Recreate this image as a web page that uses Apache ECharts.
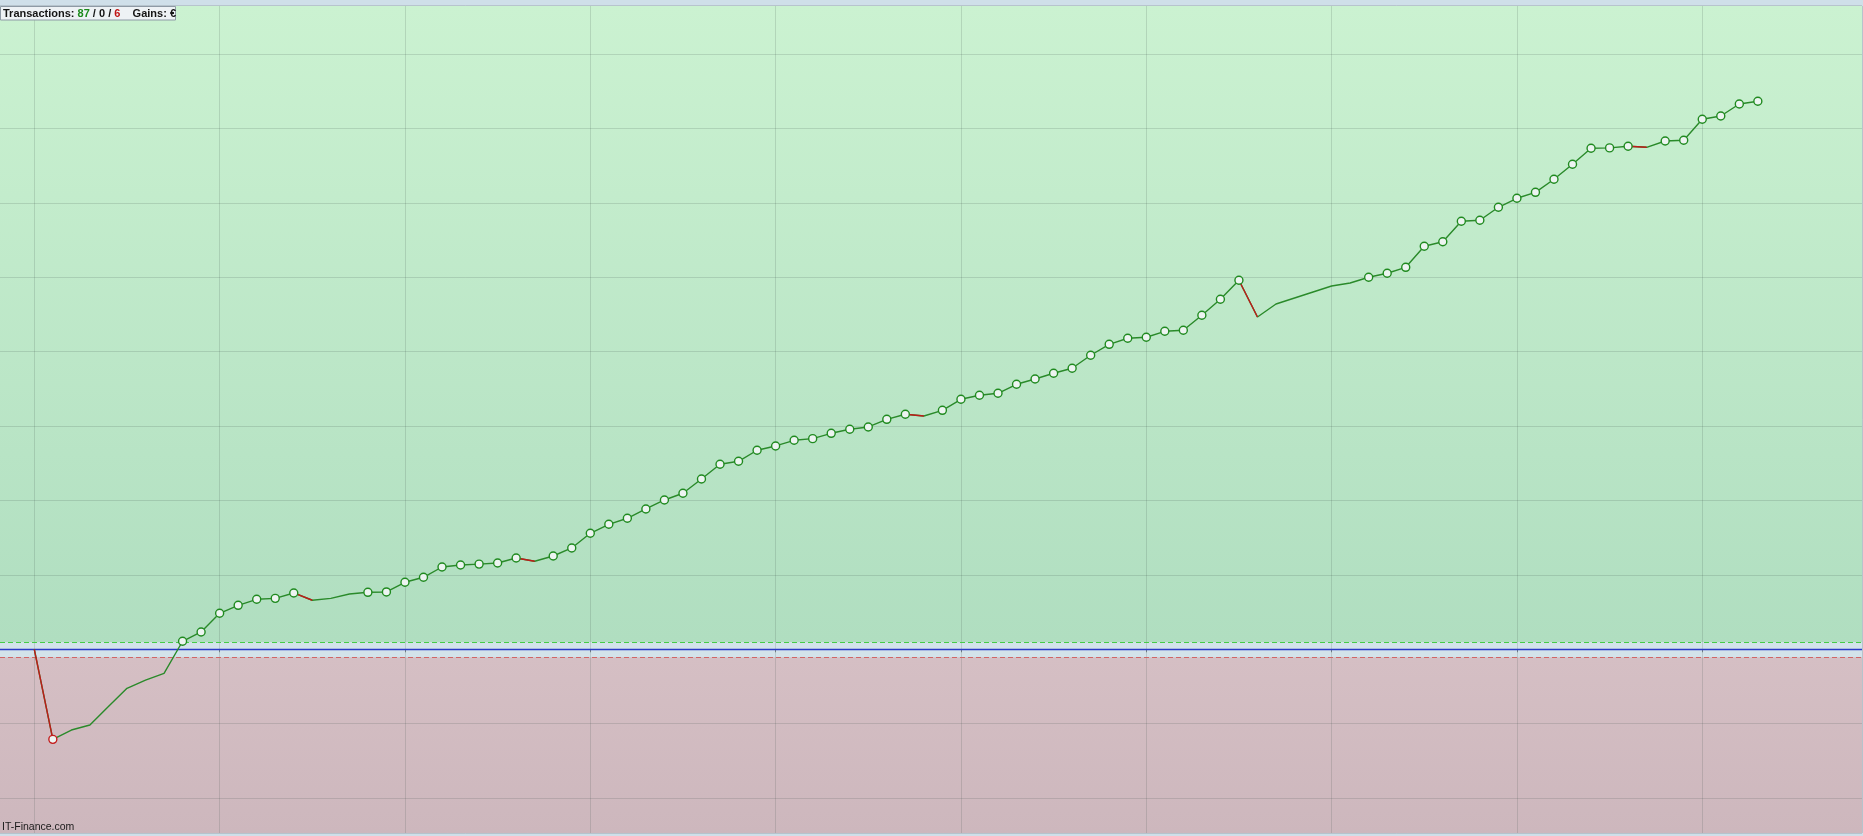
<!DOCTYPE html>
<html>
<head>
<meta charset="utf-8">
<script src="https://cdn.jsdelivr.net/npm/echarts@6/dist/echarts.min.js"></script>
<style>
html,body{margin:0;padding:0;background:#cfdfe9;overflow:hidden;}
#c{width:1863px;height:836px;}
</style>
</head>
<body>
<div id="c"></div>
<script>
// ---- data (cumulative result after each transaction; index 0 = start) ----
const tradeIndex = Array.from({length: 94}, (_, i) => i);
const equity = [
  0, -121.0, -108.5, -101.7, -77.0, -52.4, -41.5, -32.3, 10.8, 23.3,
  48.4, 59.1, 67.2, 68.5, 75.7, 65.9, 68.5, 74.3, 76.6, 77.1,
  90.1, 96.8, 110.6, 113.3, 114.5, 116.0, 122.7, 118.3, 125.4, 136.2,
  155.9, 168.0, 176.1, 188.6, 200.7, 209.7, 228.9, 248.7, 252.7, 267.5,
  273.3, 280.9, 283.1, 290.3, 295.7, 298.8, 309.1, 315.9, 313.6, 321.2,
  336.0, 341.4, 344.1, 356.2, 363.3, 371.0, 377.7, 395.2, 409.9, 418.0,
  419.4, 427.4, 428.8, 448.9, 470.4, 496.0, 446.6, 464.1, 472.2, 480.2,
  488.3, 492.3, 500.0, 505.4, 513.4, 541.7, 547.8, 575.3, 576.6, 594.1,
  606.2, 614.2, 631.7, 651.9, 673.4, 673.9, 676.1, 674.7, 683.2, 684.1,
  712.4, 716.8, 732.9, 736.6
];
const gridLinesX = [0, 10, 20, 30, 40, 50, 60, 70, 80, 90];
const gridLinesY = [-200, -100, 100, 200, 300, 400, 500, 600, 700, 800];
const upperBand = 9.4;
const lowerBand = -10.75;
const xRange = [-1.851, 98.62];
const yRange = [-246.9, 864.6];

// ---- derived ----
const lineData = tradeIndex.map(i => [i, equity[i]]);
let wins = 0, neutral = 0, losses = 0;
const lossSeries = [];
for (let i = 0; i < equity.length - 1; i++) {
  const d = equity[i + 1] - equity[i];
  if (d > 0) wins++;
  else if (d < 0) {
    losses++;
    lossSeries.push({
      type: 'line', z: 3, silent: true, symbol: 'none', animation: false,
      data: [[i, equity[i]], [i + 1, equity[i + 1]]],
      lineStyle: {color: '#c01a1a', width: 1.4}
    });
  } else neutral++;
}
let runMax = equity[0];
let minIdx = 0;
equity.forEach((v, i) => { if (v < equity[minIdx]) minIdx = i; });
const markerData = [];
for (let i = 1; i < equity.length; i++) {
  if (equity[i] > runMax) {
    runMax = equity[i];
    markerData.push({value: [i, equity[i]], itemStyle: {borderColor: '#1f8a1f'}});
  } else if (i === minIdx) {
    markerData.push({value: [i, equity[i]], itemStyle: {borderColor: '#c41c1c'}});
  }
}

const gridStyle = {color: 'rgba(60,80,70,0.17)', width: 1, type: 'solid'};
const mlData = [];
gridLinesX.forEach(x => mlData.push({xAxis: x, lineStyle: gridStyle}));
gridLinesY.forEach(y => mlData.push({yAxis: y, lineStyle: gridStyle}));
mlData.push({yAxis: upperBand, lineStyle: {color: '#46cc46', width: 1, type: [5, 3]}});
mlData.push({yAxis: lowerBand, lineStyle: {color: '#d06666', width: 1, type: [5, 3]}});
mlData.push({yAxis: 0, lineStyle: {color: '#2a38c8', width: 1.4, type: 'solid'}});

const G = echarts.graphic.LinearGradient;
const chart = echarts.init(document.getElementById('c'), null, {renderer: 'canvas'});
chart.setOption({
  animation: false,
  backgroundColor: '#cfdfe9',
  grid: {left: 0, right: 1, top: 6, bottom: 3, show: true, borderColor: '#9ea8b0', borderWidth: 1, backgroundColor: 'transparent'},
  xAxis: {
    type: 'value', min: xRange[0], max: xRange[1],
    splitLine: {show: false},
    axisLine: {show: false},
    axisLabel: {show: false},
    axisTick: {show: true, customValues: gridLinesX, length: 3, lineStyle: {color: '#7d8890'}}
  },
  yAxis: {
    type: 'value', min: yRange[0], max: yRange[1],
    splitLine: {show: false}, axisLine: {show: false}, axisLabel: {show: false}, axisTick: {show: false}
  },
  series: [
    {
      type: 'line', z: 1, silent: true, symbol: 'none',
      data: lineData, lineStyle: {opacity: 0},
      markArea: {
        silent: true, z: 0,
        data: [
          [{yAxis: upperBand, itemStyle: {color: new G(0, 0, 0, 1, [{offset: 0, color: '#cbf2d1'}, {offset: 1, color: '#b0dec0'}])}}, {yAxis: yRange[1]}],
          [{yAxis: lowerBand, itemStyle: {color: '#d3e3ea'}}, {yAxis: upperBand}],
          [{yAxis: yRange[0], itemStyle: {color: new G(0, 0, 0, 1, [{offset: 0, color: '#d5bfc4'}, {offset: 1, color: '#cdb7bd'}])}}, {yAxis: lowerBand}]
        ]
      },
      markLine: {
        silent: true, z: 1, symbol: ['none', 'none'], label: {show: false},
        emphasis: {disabled: true},
        data: mlData
      }
    },
    {
      type: 'line', z: 2, silent: true, symbol: 'none',
      data: lineData,
      lineStyle: {color: '#2a8a2a', width: 1.4}
    },
    ...lossSeries,
    {
      type: 'scatter', z: 5, silent: true, symbol: 'circle', symbolSize: 8,
      data: markerData,
      itemStyle: {color: '#edf4f1', borderWidth: 1.4, borderColor: '#1f8a1f', opacity: 1}
    }
  ],
  graphic: [
    {type: 'rect', z: 100, shape: {x: 0.5, y: 6.5, width: 175, height: 13.5}, style: {fill: '#eef2f5', stroke: '#8e9aa5', lineWidth: 1}},
    {type: 'text', z: 101, x: 3, y: 13.5, style: {
      text: '{k|Transactions:} {g|' + wins + '} {k|/} {k|' + neutral + '} {k|/} {r|' + losses + '}    {k|Gains: €}',
      verticalAlign: 'middle',
      rich: {
        k: {fontFamily: 'Liberation Sans', fontSize: 11, fontWeight: 'bold', fill: '#141414'},
        g: {fontFamily: 'Liberation Sans', fontSize: 11, fontWeight: 'bold', fill: '#1b8a1b'},
        r: {fontFamily: 'Liberation Sans', fontSize: 11, fontWeight: 'bold', fill: '#c01515'}
      },
      font: 'bold 11px "Liberation Sans"'
    }},
    {type: 'text', z: 101, x: 2, y: 827, style: {
      text: 'IT-Finance.com', fill: '#1a1a1a', verticalAlign: 'middle',
      font: '10.5px "Liberation Sans"'
    }}
  ]
});
</script>
</body>
</html>
